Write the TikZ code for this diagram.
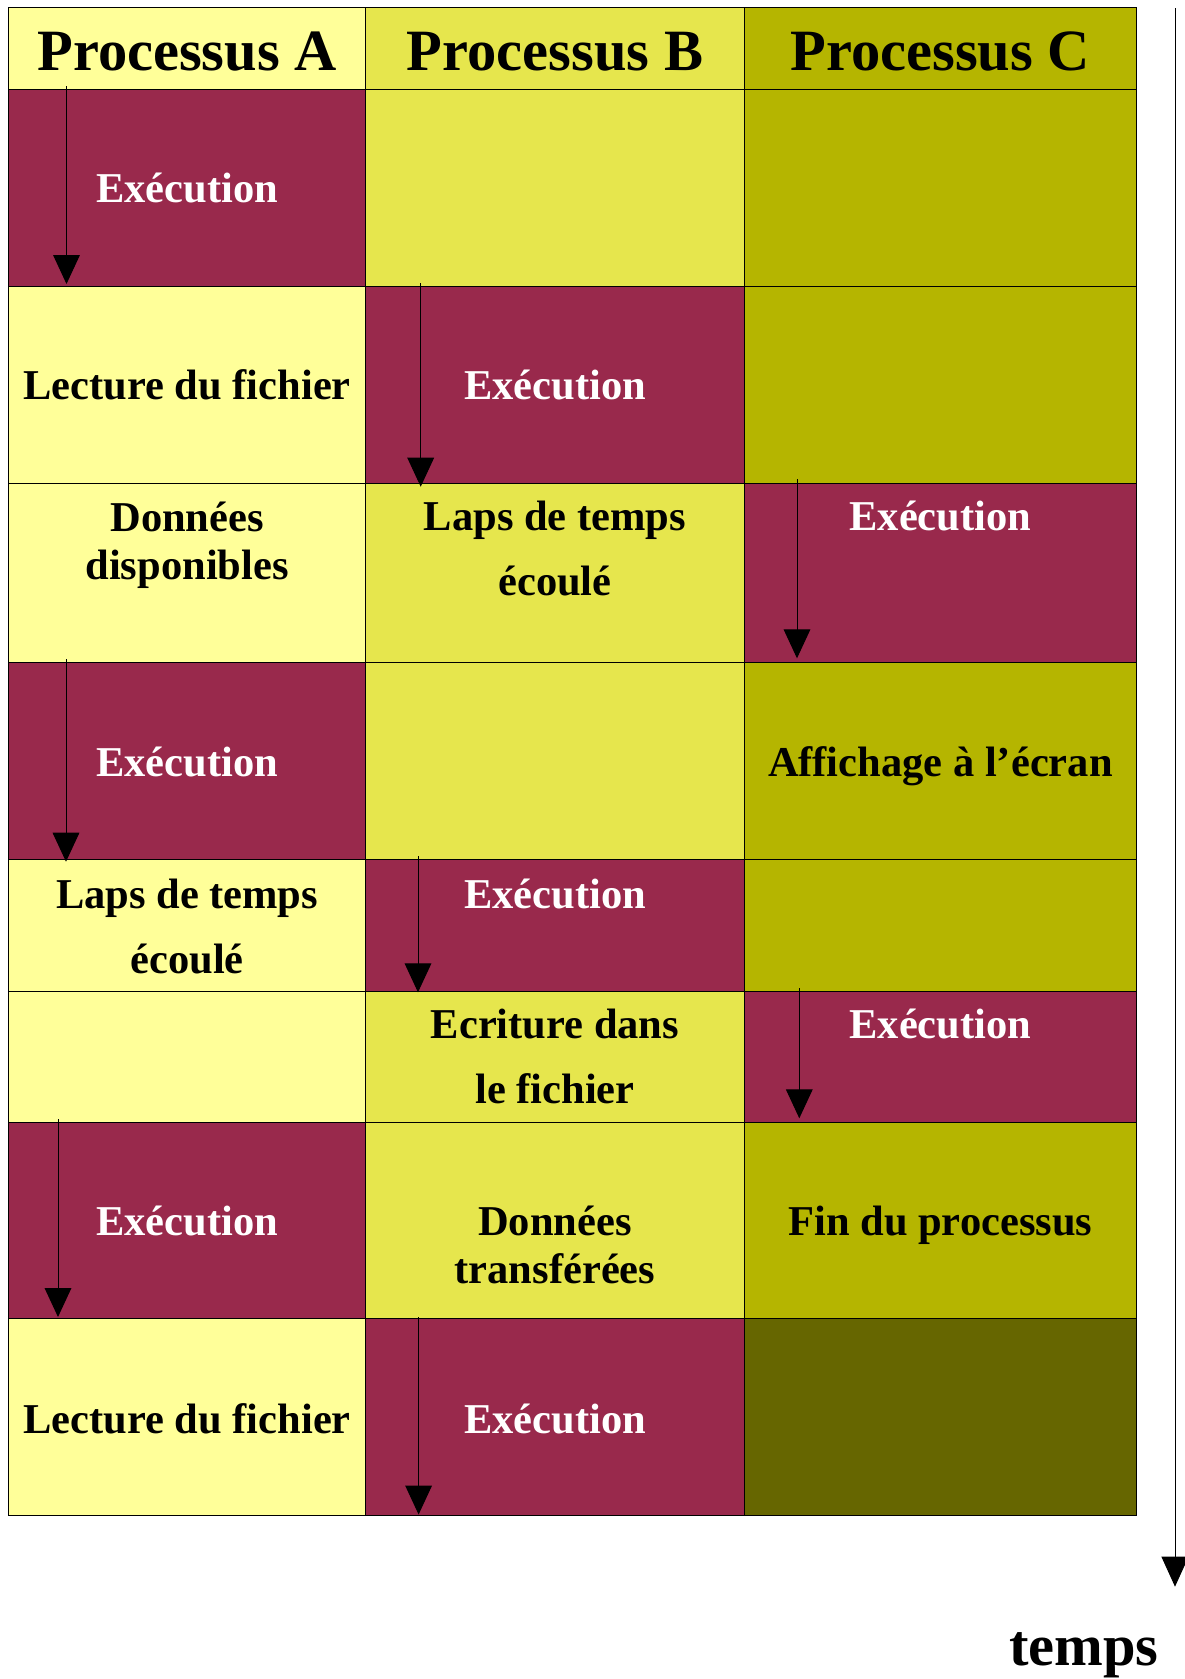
\documentclass[tikz,border=0pt]{standalone}
\usepackage{fontspec}
\setmainfont{Liberation Serif}
\usetikzlibrary{arrows.meta}

\definecolor{paleA}{HTML}{FFFF99}
\definecolor{midB}{HTML}{E6E64D}
\definecolor{oliveC}{HTML}{B5B500}
\definecolor{runcol}{HTML}{99294C}
\definecolor{endcol}{HTML}{666600}

\begin{document}
\begin{tikzpicture}[x=1pt,y=-1pt,
  cellbox/.style={draw=black, line width=1pt},
  hdr/.style={anchor=base, inner sep=0pt, font=\fontsize{58.5}{60}\selectfont\bfseries},
  lbl/.style={anchor=base, inner sep=0pt, font=\fontsize{42.5}{48}\selectfont\bfseries},
  wlbl/.style={lbl, text=white},
  runarrow/.style={draw=black, line width=1pt, -{Triangle[width=26.7pt,length=29pt]}},
  timearrow/.style={draw=black, line width=1pt, -{Triangle[width=27pt,length=30pt]}}
]
\useasboundingbox (0,0) rectangle (1184,1679);

% column and row limits of the table
\def\xa{8.5}\def\xb{365.7}\def\xc{744.3}\def\xd{1136.3}

% one row per line: top, bottom, colours of the three columns
\foreach \ya/\yb/\ca/\cb/\cc in {
    7.5/89.5/paleA/midB/oliveC,
    89.5/286/runcol/midB/oliveC,
    286/483/paleA/runcol/oliveC,
    483/662.7/paleA/midB/runcol,
    662.7/859.6/runcol/midB/oliveC,
    859.6/991.3/paleA/runcol/oliveC,
    991.3/1122/paleA/midB/runcol,
    1122/1318/runcol/midB/oliveC,
    1318/1515/paleA/runcol/endcol}{
  \path[cellbox, fill=\ca] (\xa,\ya) rectangle (\xb,\yb);
  \path[cellbox, fill=\cb] (\xb,\ya) rectangle (\xc,\yb);
  \path[cellbox, fill=\cc] (\xc,\ya) rectangle (\xd,\yb);
}

% headers
\node[hdr] (hA) at (187.1,70) {Processus A};
\node[hdr] (hB) at (555,70) {Processus B};
\node[hdr] (hC) at (940.3,70) {Processus C};

% row 1
\node[wlbl] (r1A) at (187.1,202.7) {Exécution};
% row 2
\node[lbl]  (r2A) at (187.1,399) {Lecture du fichier};
\node[wlbl] (r2B) at (555,399) {Exécution};
% row 3
\node[lbl]  (r3A1) at (187.1,531) {Données};
\node[lbl]  (r3A2) at (187.1,579.3) {disponibles};
\node[lbl]  (r3B1) at (555,530) {Laps de temps};
\node[lbl]  (r3B2) at (555,595) {écoulé};
\node[wlbl] (r3C) at (940.3,530) {Exécution};
% row 4
\node[wlbl] (r4A) at (187.1,776) {Exécution};
\node[lbl]  (r4C) at (940.3,776) {Affichage à l’écran};
% row 5
\node[lbl]  (r5A1) at (187.1,908.3) {Laps de temps};
\node[lbl]  (r5A2) at (187.1,973.3) {écoulé};
\node[wlbl] (r5B) at (555,908.3) {Exécution};
% row 6
\node[lbl]  (r6B1) at (555,1038.3) {Ecriture dans};
\node[lbl]  (r6B2) at (555,1103.3) {le fichier};
\node[wlbl] (r6C) at (940.3,1038.3) {Exécution};
% row 7
\node[wlbl] (r7A) at (187.1,1235) {Exécution};
\node[lbl]  (r7B1) at (555,1235) {Données};
\node[lbl]  (r7B2) at (555,1283.3) {transférées};
\node[lbl]  (r7C) at (940.3,1235) {Fin du processus};
% row 8
\node[lbl]  (r8A) at (187.1,1433.4) {Lecture du fichier};
\node[wlbl] (r8B) at (555,1433.4) {Exécution};

% execution arrows: start and end of each run
\coordinate (s1) at (66.5,86);     \coordinate (e1) at (66.5,284);
\coordinate (s2) at (420.7,283.3); \coordinate (e2) at (420.7,486.7);
\coordinate (s3) at (797,479.3);   \coordinate (e3) at (797,658.3);
\coordinate (s4) at (66,659);      \coordinate (e4) at (66,861.7);
\coordinate (s5) at (418,856.4);   \coordinate (e5) at (418,992.3);
\coordinate (s6) at (799.3,988.3); \coordinate (e6) at (799.3,1118.3);
\coordinate (s7) at (58,1119.3);   \coordinate (e7) at (58,1317);
\coordinate (s8) at (418.6,1317);  \coordinate (e8) at (418.6,1514.5);
\foreach \i in {1,...,8}{
  \draw[runarrow] (s\i) -- (e\i);
}

% time axis
\coordinate (t0) at (1175,8);
\coordinate (t1) at (1175,1586.7);
\draw[timearrow] (t0) -- (t1);
\node[hdr] (tlabel) at (1084,1665) {temps};
\end{tikzpicture}
\end{document}
